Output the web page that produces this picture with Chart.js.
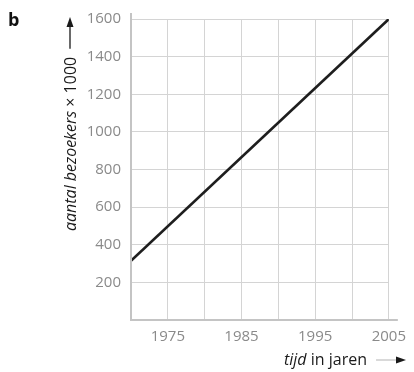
<!DOCTYPE html>
<html>
<head>
<meta charset="utf-8">
<script src="https://cdn.jsdelivr.net/npm/chart.js@4/dist/chart.umd.min.js"></script>
<style>
html,body{margin:0;padding:0;background:#fff;}
#wrap{width:414px;height:372px;position:relative;}
</style>
</head>
<body>
<div id="wrap"><canvas id="c" width="414" height="372"></canvas></div>
<script>
const years = [1970, 2005];
const visitors = [315, 1600];
const xLabeledTicks = [1975, 1985, 1995, 2005];
const yLabeledTicks = [200, 400, 600, 800, 1000, 1200, 1400, 1600];
const panelLabel = 'b';
const yTitleItalic = 'aantal bezoekers';
const yTitleRest = ' \u00d7 1000';
const xTitleItalic = 'tijd';
const xTitleRest = ' in jaren';

const FONT = '"Open Sans", "Noto Sans", sans-serif';
const TICK = '#8a8a8a';
const GRID = '#d4d4d4';
const AXIS = '#c4c4c4';
const TITLE_SIZE = 16;

const decor = {
  id: 'decor',
  afterDraw(chart) {
    const ctx = chart.ctx;
    const a = chart.chartArea;
    ctx.save();
    // axis lines
    ctx.strokeStyle = AXIS;
    ctx.lineWidth = 2;
    ctx.beginPath();
    ctx.moveTo(a.left, a.top - 6);
    ctx.lineTo(a.left, a.bottom);
    ctx.lineTo(a.right + 9, a.bottom);
    ctx.stroke();
    // panel label
    ctx.fillStyle = '#111';
    ctx.font = 'bold 18px ' + FONT;
    ctx.textBaseline = 'alphabetic';
    ctx.textAlign = 'left';
    ctx.fillText(panelLabel, 8, 26);
    // y title (rotated)
    ctx.fillStyle = '#1a1a1a';
    ctx.save();
    ctx.translate(76, 231);
    ctx.rotate(-Math.PI / 2);
    ctx.font = 'italic ' + TITLE_SIZE + 'px ' + FONT;
    const w1 = ctx.measureText(yTitleItalic).width;
    ctx.fillText(yTitleItalic, 0, 0);
    ctx.font = TITLE_SIZE + 'px ' + FONT;
    const w2 = ctx.measureText(yTitleRest).width;
    ctx.fillText(yTitleRest, w1, 0);
    // arrow
    const ax0 = w1 + w2 + 8;
    const ax1 = 231 - 17;
    ctx.strokeStyle = '#1a1a1a';
    ctx.lineWidth = 1.3;
    ctx.beginPath();
    ctx.moveTo(ax0, -6);
    ctx.lineTo(ax1 - 6, -6);
    ctx.stroke();
    ctx.beginPath();
    ctx.moveTo(ax1, -6);
    ctx.lineTo(ax1 - 10, -9.5);
    ctx.lineTo(ax1 - 10, -2.5);
    ctx.closePath();
    ctx.fill();
    ctx.restore();
    // x title
    ctx.font = 'italic 16px ' + FONT;
    const xw1 = ctx.measureText(xTitleItalic).width;
    ctx.font = '16px ' + FONT;
    const xw2 = ctx.measureText(xTitleRest).width;
    const xs = 284;
    const xy = 365;
    ctx.font = 'italic 16px ' + FONT;
    ctx.fillText(xTitleItalic, xs, xy);
    ctx.font = '16px ' + FONT;
    ctx.fillText(xTitleRest, xs + xw1, xy);
    const bx0 = xs + xw1 + xw2 + 9;
    const bx1 = 406;
    ctx.lineWidth = 1.3;
    ctx.beginPath();
    ctx.moveTo(bx0, xy - 5);
    ctx.lineTo(bx1 - 6, xy - 5);
    ctx.stroke();
    ctx.beginPath();
    ctx.moveTo(bx1, xy - 5);
    ctx.lineTo(bx1 - 10, xy - 8.5);
    ctx.lineTo(bx1 - 10, xy - 1.5);
    ctx.closePath();
    ctx.fill();
    ctx.restore();
  }
};

new Chart(document.getElementById('c'), {
  type: 'line',
  data: {
    datasets: [{
      data: years.map((y, i) => ({ x: y, y: visitors[i] })),
      borderColor: '#1e1e1e',
      borderWidth: 2.6,
      pointRadius: 0,
      fill: false,
      tension: 0
    }]
  },
  options: {
    responsive: false,
    animation: false,
    devicePixelRatio: 1,
    layout: { padding: { left: 0, right: 19, top: 16, bottom: 0 } },
    plugins: { legend: { display: false }, tooltip: { enabled: false } },
    scales: {
      x: {
        type: 'linear',
        min: 1970, max: 2005,
        grid: { color: GRID, lineWidth: 1, drawTicks: false },
        border: { display: false },
        ticks: {
          stepSize: 5,
          autoSkip: false,
          maxRotation: 0,
          padding: 8,
          color: TICK,
          font: { family: FONT, size: 15 },
          callback: v => xLabeledTicks.includes(v) ? String(v) : ''
        },
        afterFit: s => { s.height = 52; }
      },
      y: {
        min: 0, max: 1600,
        grid: { color: GRID, lineWidth: 1, drawTicks: false },
        border: { display: false },
        ticks: {
          stepSize: 200,
          padding: 10,
          color: TICK,
          font: { family: FONT, size: 15 },
          callback: v => yLabeledTicks.includes(v) ? String(v) : ''
        },
        afterFit: s => { s.width = 131; }
      }
    }
  },
  plugins: [decor]
});
</script>
</body>
</html>
